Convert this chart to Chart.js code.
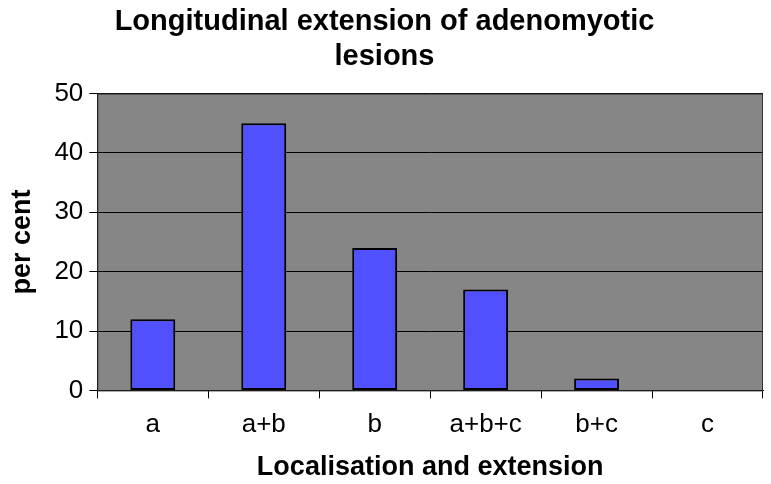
<!DOCTYPE html>
<html>
<head>
<meta charset="utf-8">
<script src="https://cdn.jsdelivr.net/npm/chart.js@4.4.0/dist/chart.umd.min.js"></script>
<style>
  html, body { margin: 0; padding: 0; background: #fff; }
  #wrap { width: 771px; height: 484px; }
</style>
</head>
<body>
<div id="wrap"><canvas id="chart"></canvas></div>
<script>
// Longitudinal extension of adenomyotic lesions, share of cases per site
const categories = ["a", "a+b", "b", "a+b+c", "b+c", "c"]
const percent    = [12, 45, 24, 17, 2, 0]
const yTicks     = [0, 10, 20, 30, 40, 50]

// gray plot area with a thin dark frame, like the old spreadsheet look
const plotFrame = {
  id: "plotFrame",
  beforeDraw(chart) {
    const { ctx, chartArea: a } = chart
    ctx.save()
    ctx.fillStyle = "#868686"
    ctx.fillRect(a.left, a.top, a.right - a.left, a.bottom - a.top)
    ctx.restore()
  },
  afterDraw(chart) {
    const { ctx, chartArea: a } = chart
    ctx.save()
    ctx.strokeStyle = "#333"
    ctx.lineWidth = 1
    ctx.strokeRect(a.left + 0.5, a.top + 0.5, a.right - a.left - 1, a.bottom - a.top)
    ctx.restore()
  }
}

const font = "'Liberation Sans', Arial, sans-serif"

new Chart(document.getElementById("chart"), {
  type: "bar",
  data: {
    labels: categories,
    datasets: [{
      data: percent,
      backgroundColor: "#5050ff",
      borderColor: "#000",
      borderWidth: 2,
      borderSkipped: false,
      categoryPercentage: 0.405,
      barPercentage: 1.0,
    }]
  },
  options: {
    responsive: true,
    maintainAspectRatio: false,
    animation: false,
    layout: { padding: { top: 5, right: 8, left: 6, bottom: 0 } },
    plugins: {
      legend: { display: false },
      tooltip: { enabled: false },
      title: {
        display: true,
        text: ["Longitudinal extension of adenomyotic", "lesions"],
        color: "#000",
        font: { family: font, size: 29, weight: "bold" },
        padding: { top: 0, bottom: 19 },
        lineHeight: 1.38,
      }
    },
    scales: {
      x: {
        grid: { display: true, drawOnChartArea: false, color: "#000", tickLength: 8, offset: true },
        border: { color: "#000", width: 1 },
        ticks: { color: "#000", font: { family: font, size: 26 }, padding: 11 },
        title: {
          display: true,
          text: "Localisation and extension",
          color: "#000",
          font: { family: font, size: 27, weight: "bold" },
          padding: { top: 0, bottom: 0 },
        }
      },
      y: {
        min: 0,
        max: 50,
        afterBuildTicks: (scale) => { scale.ticks = yTicks.map((v) => ({ value: v })) },
        grid: { color: "#000", tickLength: 8 },
        border: { color: "#000", width: 1 },
        ticks: { color: "#000", font: { family: font, size: 26 }, padding: 6 },
        title: {
          display: true,
          text: "per cent",
          color: "#000",
          font: { family: font, size: 27, weight: "bold" },
          padding: { top: 0, bottom: 10 },
        }
      }
    }
  },
  plugins: [plotFrame]
})
</script>
</body>
</html>
